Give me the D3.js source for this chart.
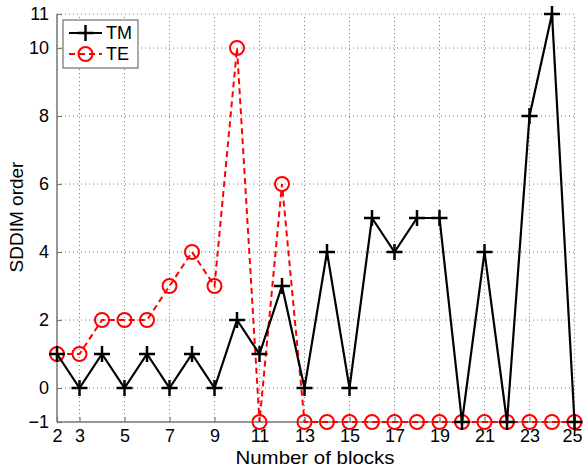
<!DOCTYPE html>
<html><head><meta charset="utf-8">
<script src="https://cdn.jsdelivr.net/npm/d3@7"></script>
<style>body{margin:0;background:#fff}svg{display:block}</style>
</head><body>
<script>
const blocks = [2,3,4,5,6,7,8,9,10,11,12,13,14,15,16,17,18,19,20,21,22,23,24,25];
const tmValues = [1,0,1,0,1,0,1,0,2,1,3,0,4,0,5,4,5,5,-1,4,-1,8,11,-1];
const teValues = [1,1,2,2,2,3,4,3,10,-1,6,-1,-1,-1,-1,-1,-1,-1,-1,-1,-1,-1,-1,-1];
const xTicks = [2,3,5,7,9,11,13,15,17,19,21,23,25];
const yTicks = [-1,0,2,4,6,8,10,11];
const seriesNames = ["TM","TE"];

const W=583,H=470;
const svg=d3.select("body").append("svg").attr("width",W).attr("height",H);
const x=d3.scaleLinear().domain([2,25]).range([57,574.5]);
const y=d3.scaleLinear().domain([-1,11]).range([422,14]);
const font="Liberation Sans, Arial, sans-serif";

// grid
const g=svg.append("g");
g.selectAll(".vx").data(xTicks).enter().append("line")
 .attr("x1",d=>x(d)).attr("x2",d=>x(d)).attr("y1",y(-1)).attr("y2",y(11))
 .attr("stroke","#777").attr("stroke-width",1).attr("stroke-dasharray","1,3");
g.selectAll(".hy").data(yTicks).enter().append("line")
 .attr("y1",d=>y(d)).attr("y2",d=>y(d)).attr("x1",x(2)).attr("x2",x(25))
 .attr("stroke","#777").attr("stroke-width",1).attr("stroke-dasharray","1,3");

// axes
const xAxis=d3.axisBottom(x).tickValues(xTicks).tickSize(-5).tickPadding(7).tickFormat(d3.format("d"));
const yAxis=d3.axisLeft(y).tickValues(yTicks).tickSize(-5).tickPadding(8).tickFormat(d=>d<0?"\u2212"+Math.abs(d):d);
const gx=svg.append("g").attr("transform",`translate(0,${y(-1)})`).call(xAxis);
const gy=svg.append("g").attr("transform",`translate(${x(2)},0)`).call(yAxis);
[gx,gy].forEach(a=>{
  a.select(".domain").attr("stroke","#7a7a7a").attr("stroke-width",1.5);
  a.selectAll(".tick line").attr("stroke","#7a7a7a").attr("stroke-width",1.2);
  a.selectAll("text").attr("font-family",font).attr("font-size",18).attr("fill","#000");
});
gy.select(".domain").attr("d",`M0,${y(-1)}V${y(11)}`);
gx.select(".domain").attr("d",`M${x(2)},0H${x(25)}`);
// keep the last x label inside the picture
gx.selectAll(".tick text").filter(d=>d===25).attr("text-anchor","end").attr("x",W-1-x(25));

// titles
svg.append("text").attr("x",315).attr("y",464).attr("text-anchor","middle")
 .attr("font-family",font).attr("font-size",19).attr("textLength",159).attr("lengthAdjust","spacingAndGlyphs").text("Number of blocks");
svg.append("text").attr("transform","translate(23,217) rotate(-90)").attr("text-anchor","middle")
 .attr("font-family",font).attr("font-size",19).text("SDDIM order");

const line=d3.line().x((d,i)=>x(blocks[i])).y(d=>y(d));
// TE
svg.append("path").datum(teValues).attr("d",line).attr("fill","none")
 .attr("stroke","#ff0000").attr("stroke-width",2).attr("stroke-dasharray","6,4");
svg.selectAll(".te").data(teValues).enter().append("circle")
 .attr("cx",(d,i)=>x(blocks[i])).attr("cy",d=>y(d)).attr("r",7)
 .attr("fill","none").attr("stroke","#ff0000").attr("stroke-width",2);
// TM
svg.append("path").datum(tmValues).attr("d",line).attr("fill","none")
 .attr("stroke","#000").attr("stroke-width",2.2);
svg.selectAll(".tm").data(tmValues).enter().append("path")
 .attr("d",(d,i)=>`M${x(blocks[i])-8},${y(d)}h16M${x(blocks[i])},${y(d)-8}v16`)
 .attr("stroke","#000").attr("stroke-width",2.5).attr("fill","none");

// legend
const lg=svg.append("g");
lg.append("rect").attr("x",63).attr("y",20).attr("width",75).attr("height",48)
 .attr("fill","#fff").attr("stroke","#555").attr("stroke-width",1);
lg.append("line").attr("x1",69).attr("x2",102).attr("y1",33).attr("y2",33).attr("stroke","#000").attr("stroke-width",2.2);
lg.append("path").attr("d","M77.5,33h16M85.5,25v16").attr("stroke","#000").attr("stroke-width",2.5);
lg.append("line").attr("x1",69).attr("x2",102).attr("y1",54).attr("y2",54).attr("stroke","#f00").attr("stroke-width",2).attr("stroke-dasharray","6,4");
lg.append("circle").attr("cx",85.5).attr("cy",54).attr("r",7).attr("fill","none").attr("stroke","#f00").attr("stroke-width",2);
lg.append("text").attr("x",106).attr("y",39).attr("font-family",font).attr("font-size",18).text(seriesNames[0]);
lg.append("text").attr("x",106).attr("y",60).attr("font-family",font).attr("font-size",18).text(seriesNames[1]);
</script>
</body></html>
